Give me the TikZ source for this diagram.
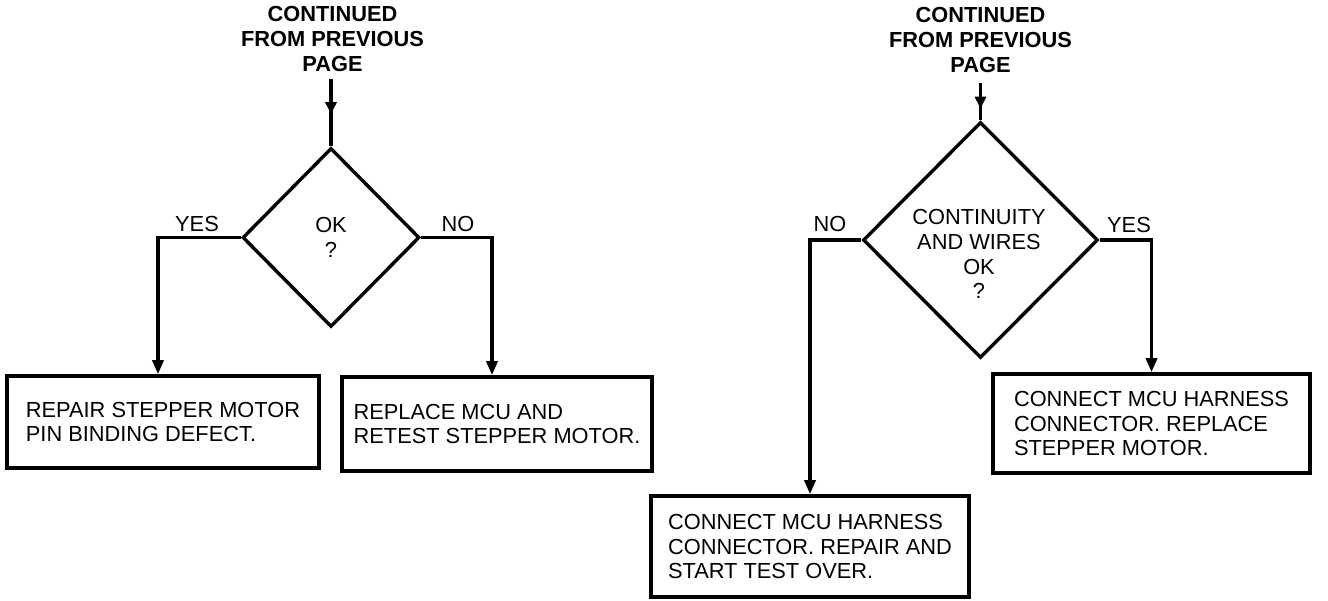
\documentclass[tikz,border=0pt]{standalone}
\usepackage{fontspec}
\setmainfont{Liberation Sans}
\usetikzlibrary{shapes.geometric,arrows.meta,decorations.markings}
\tikzset{
  fc/.style={font=\fontsize{21.8}{24.8}\selectfont},
  title/.style={fc, font=\fontsize{21.8}{24.8}\selectfont\bfseries, align=center, inner xsep=0pt},
  dia/.style={diamond, draw, line width=3.4pt, inner sep=0pt, fc, align=center},
  box/.style={rectangle, draw, line width=3.6pt, inner sep=0pt, fc, align=left},
  lab/.style={fc, inner sep=0pt},
  conn/.style={line width=3.4pt, -{Triangle[length=14pt,width=11pt]}},
  midarrow/.style={line width=3.4pt, postaction={decorate},
    decoration={markings, mark=at position #1 with {\arrow{Triangle[length=12pt,width=11pt]}}}}
}
\begin{document}
\begin{tikzpicture}[x=1pt,y=-1pt]
\useasboundingbox (0,0) rectangle (1328,600);
% left part
\node[title, inner ysep=7.5pt] (tL) at (332.5,39) {CONTINUED\\FROM PREVIOUS\\PAGE};
\node[dia, minimum width=177pt, minimum height=179pt] (dL) at (331,237.5) {OK\\?};
\node[box, minimum width=312pt, minimum height=92pt] (b1) at (163,422) {REPAIR STEPPER MOTOR\\PIN BINDING DEFECT.};
\node[box, minimum width=310pt, minimum height=94pt] (b2) at (497,424) {REPLACE MCU AND\\RETEST STEPPER MOTOR.};
\node[lab] (yesL) at (197,224) {YES};
\node[lab] (noL) at (458,224) {NO};
\draw[midarrow=0.52] (tL.south -| dL.north) -- (dL.north);
\draw[conn] (dL.west) -| ([xshift=-5pt]b1.north);
\draw[conn] (dL.east) -| ([xshift=-5pt]b2.north);
% right part
\node[title, inner ysep=10pt] (tR) at (980.5,40) {CONTINUED\\FROM PREVIOUS\\PAGE};
\node[dia, minimum width=235pt, minimum height=236pt] (dR) at (980.5,240) {};
\node[fc, align=center, inner sep=0pt] (qR) at (979,254) {CONTINUITY\\AND WIRES\\OK\\?};
\node[box, minimum width=317pt, minimum height=99pt] (b3) at (1151.5,423.5) {CONNECT MCU HARNESS\\CONNECTOR. REPLACE\\STEPPER MOTOR.};
\node[box, minimum width=318pt, minimum height=101pt] (b4) at (810,546.5) {CONNECT MCU HARNESS\\CONNECTOR. REPAIR AND\\START TEST OVER.};
\node[lab] (noR) at (830,224) {NO};
\node[lab] (yesR) at (1129,225) {YES};
\draw[midarrow=0.69] (tR.south -| dR.north) -- (dR.north);
\draw[conn] (dR.west) -| (b4.north);
\draw[conn] (dR.east) -| (b3.north);
\end{tikzpicture}
\end{document}
